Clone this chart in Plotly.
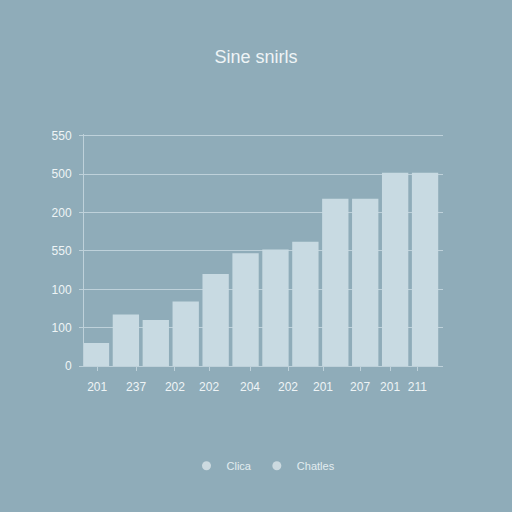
import plotly.graph_objects as go

# Bar heights, one per period (twelve bars)
values = [30, 67, 60, 84, 120, 147, 152, 162, 218, 218, 252, 252]
bar_index = list(range(len(values)))

# Category labels along the bottom and where they sit on the index scale
x_labels = ["201", "237", "202", "202", "204", "202", "201", "207", "201", "211"]
x_label_pos = [0.04, 1.34, 2.64, 3.78, 5.15, 6.42, 7.59, 8.83, 9.83, 10.74]

# Value axis ticks and their printed labels
y_tick_vals = [0, 50, 100, 150, 200, 250, 300]
y_tick_text = ["0", "100", "100", "550", "200", "500", "550"]

legend_names = ["Clica", "Chatles"]

bg = "rgb(143,172,185)"
bar_color = "rgb(200,218,226)"
grid_color = "rgba(205,222,229,0.75)"
text_color = "rgb(238,244,246)"
font_family = "Liberation Sans, Arial, sans-serif"

fig = go.Figure()
fig.add_trace(go.Bar(
    x=bar_index, y=values,
    marker=dict(color=bar_color, line=dict(width=0)),
    showlegend=False,
    hoverinfo="y",
))
for name in legend_names:
    fig.add_trace(go.Scatter(
        x=[None], y=[None], mode="markers", name=name,
        marker=dict(symbol="circle", size=9, color="rgb(204,218,224)"),
    ))

fig.update_layout(
    width=512, height=512,
    paper_bgcolor=bg, plot_bgcolor=bg,
    margin=dict(l=84, r=69, t=134, b=146),
    bargap=0.12,
    font=dict(family=font_family, color=text_color, size=12),
    title=dict(
        text="Sine snirls", x=0.5, xanchor="center",
        y=1 - 57 / 512, yanchor="middle",
        font=dict(size=18, color=text_color, family=font_family),
    ),
    showlegend=True,
    legend=dict(
        orientation="h", x=0.5, xanchor="center",
        y=-0.43, yanchor="middle",
        font=dict(size=11, color="rgb(226,236,240)"),
        bgcolor="rgba(0,0,0,0)", itemwidth=30,
    ),
    xaxis=dict(
        range=[-0.4, 11.6],
        tickmode="array", tickvals=x_label_pos, ticktext=x_labels,
        showgrid=False, zeroline=False,
        showline=True, linecolor=grid_color, linewidth=1,
        ticks="outside", ticklen=4, tickcolor=grid_color,
        ticklabelstandoff=6,
        tickfont=dict(size=12, color=text_color),
    ),
    yaxis=dict(
        range=[0, 302.5],
        tickmode="array", tickvals=y_tick_vals, ticktext=y_tick_text,
        showgrid=True, gridcolor=grid_color, gridwidth=1,
        zeroline=False,
        showline=True, linecolor=grid_color, linewidth=1,
        ticks="outside", ticklen=4, tickcolor=grid_color,
        ticklabelstandoff=5,
        tickfont=dict(size=12, color=text_color),
    ),
)

fig.write_html("out.html")
